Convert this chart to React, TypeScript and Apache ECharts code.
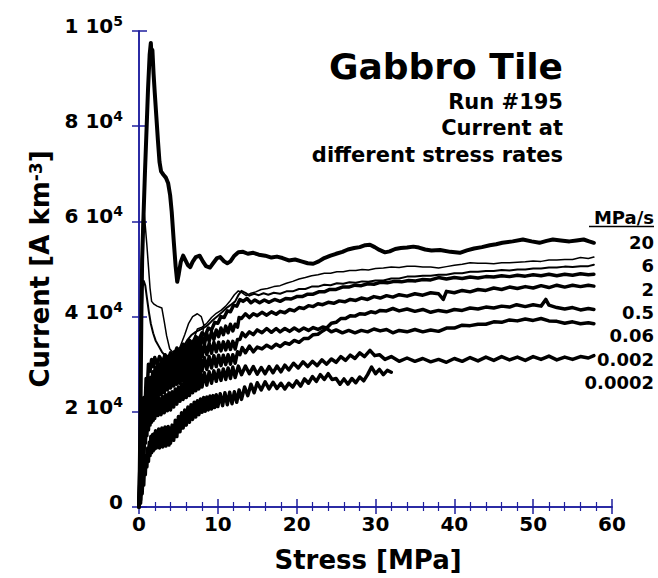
import React, { useEffect, useRef } from "react";
import * as echarts from "echarts";

// ---------- DATA (stress in MPa, current in 10^3 A km^-3) ----------
const xTickValues = [0, 10, 20, 30, 40, 50, 60];
const yTickMantissa = ["0", "2", "4", "6", "8", "1"];
const yTickExponent = ["", "4", "4", "4", "4", "5"];
const legendRates = ["20", "6", "2", "0.5", "0.06", "0.002", "0.0002"];
const titleLines = ["Run #195", "Current at", "different stress rates"];

const rate20 = [[0,0],[0.1,8],[0.2,22],[0.3,40],[0.4,52],[0.55,60],[0.75,70],[0.95,79],[1.15,88],[1.35,95],[1.5,97.5],[1.6,94.5],[1.7,96],[1.85,91],[2.0,87],[2.2,82],[2.4,77],[2.6,72.5],[2.8,70.5],[3.1,69.8],[3.4,69.2],[3.7,68],[3.95,65.5],[4.15,62],[4.4,56],[4.65,50.5],[4.85,47.3],[5.05,49],[5.3,51.5],[5.6,52.8],[5.9,51.8],[6.2,50.8],[6.5,50.4],[6.8,51.5],[7.2,52.5],[7.7,52.8],[8.1,51.6],[8.5,50.6],[9.0,50.3],[9.4,51.2],[9.9,52.3],[10.3,52.5],[10.8,51.6],[11.2,51.2],[11.6,51.6],[12.1,52.8],[12.6,53.5],[13.2,53.6],[13.8,53.2],[14.5,53.4],[15.2,53.0],[16,52.8],[16.8,52.4],[17.5,52.6],[18.2,52.3],[19,51.8],[19.8,52.0],[20.6,51.6],[21.4,51.2],[22.1,51.1],[22.8,51.6],[23.5,52.3],[24.3,52.8],[25,53.2],[25.8,53.6],[26.5,54.1],[27.3,54.4],[28,54.6],[28.7,55.0],[29.3,55.1],[29.9,54.6],[30.5,54.0],[31.2,53.5],[31.8,53.7],[32.5,54.2],[33.2,54.4],[34,54.5],[34.8,54.7],[35.5,54.5],[36.3,54.1],[37.1,53.9],[38.2,54.0],[39.5,53.6],[40.7,53.4],[41.6,53.9],[42.5,54.3],[43.5,54.6],[44.5,55.0],[45.3,55.2],[46.1,55.5],[47.4,55.8],[48.7,56.2],[49.8,55.8],[50.8,55.5],[51.7,55.9],[52.5,56.2],[53.5,56.0],[54.6,55.8],[55.5,56.0],[56.4,56.2],[57.1,55.8],[57.7,55.5]];

const unlabeledUpper = [[0,0],[0.1,14],[0.2,33],[0.3,50],[0.45,60],[0.6,63],[0.8,59],[1.0,55],[1.2,50.5],[1.4,46],[1.6,43.2],[1.9,42.6],[2.3,42.2],[2.9,41.8],[3.2,39],[3.5,36],[3.9,33.2],[4.3,32.5],[4.7,32.6],[5.2,33.6],[5.8,36.2],[6.3,38.6],[6.8,40],[7.4,40.6],[7.9,40],[8.2,38.4],[8.1,36.4],[7.7,35],[7.3,34.9],[7.1,36],[7.4,37.4],[8.0,37.8],[8.6,38.6],[9.2,39.8],[9.8,40.7],[10.4,41.3],[11.0,42.2],[11.6,43.4],[12.1,44.6],[12.6,45.4],[13.1,45],[13.6,44.4],[14.2,44.9],[14.8,45.2],[15.5,45.7],[16.3,45.9],[17.1,46.3],[17.9,46.5],[18.7,47],[19.5,47.4],[20.3,47.9],[21.1,48.2],[21.9,48.6],[22.7,48.8],[23.5,49.1],[24.3,49.1],[25.1,49.4],[25.9,49.4],[26.7,49.7],[27.5,49.7],[28.3,49.9],[29.1,49.8],[30,50.1],[31,50.2],[32,50.4],[33,50.3],[34,50.6],[35,50.6],[36,50.4],[37,50.4],[38,50.2],[39,50.5],[40,50.8],[41,51],[42,51.3],[43,51.2],[44,51.2],[45,51.1],[46,51.3],[47,51.3],[48,51.4],[49,51.5],[50,51.7],[51,51.6],[52,51.9],[53,51.9],[54,52],[55,52],[56,52.4],[57,52.2],[57.7,52.5]];

const rate6 = [[0,0],[0.15,20],[0.3,38],[0.45,46],[0.6,47.5],[0.8,46.5],[1.0,44],[1.25,41],[1.5,38.5],[1.8,36.5],[2.1,35],[2.5,33.8],[2.9,32.6],[3.3,31.8],[3.7,31.2],[4.2,31],[4.6,31.3],[5.1,32.2],[5.6,33.6],[6.1,35],[6.7,36.2],[7.2,36.8],[7.7,37.2],[8.2,37.6],[8.7,38.2],[9.2,39],[9.6,39.6],[10.1,40.3],[10.6,41],[11.1,41.8],[11.6,42.4],[12.2,43.2],[12.6,44.5],[13,45.4],[13.5,45],[14,44.4],[14.6,44.8],[15.2,44.5],[15.8,44.9],[16.4,44.6],[17.1,45],[17.9,44.8],[18.7,45.3],[19.5,45.3],[20.3,45.8],[21.1,45.8],[21.9,46.3],[22.7,46.3],[23.5,46.7],[24.3,46.6],[25.1,47],[25.9,46.9],[26.7,47.2],[27.5,47.1],[28.3,47.4],[29.1,47.3],[30,47.6],[31,47.6],[32,48],[33,48],[34,48.4],[35,48.4],[36,48.6],[37,48.6],[38,48.8],[39,48.8],[40,49.1],[41,49.1],[42,49.4],[43,49.4],[44,49.6],[45,49.6],[46,49.8],[47,49.7],[48,49.9],[49,49.9],[50,50.1],[51,50.1],[52,50.3],[53,50.3],[54,50.5],[55,50.4],[56,50.6],[57,50.6],[57.7,50.9]];

const unlabeledLower = [[0,0],[0.1,8],[0.2,5],[0.3,16],[0.45,13],[0.6,23],[0.75,20],[0.9,27],[1.05,25],[1.2,30],[1.4,28.5],[1.6,31],[1.8,29.5],[2.0,31.4],[2.3,30],[2.6,31.6],[3.0,30.4],[3.3,32],[3.7,31],[4.0,32.4],[4.4,31.6],[4.8,33.4],[5.2,32.6],[5.6,34.2],[6.0,33.6],[6.4,35],[6.8,34.4],[7.2,35.8],[7.6,35.2],[8.0,36.6],[8.4,36],[8.8,37.6],[9.2,37.2],[9.6,38.8],[10.0,38.6],[10.4,40],[10.8,39.8],[11.2,41.2],[11.6,41],[12.0,42.4],[12.4,42.2],[12.8,43.6],[13.2,43.2],[13.7,43.8],[14.2,42.9],[14.7,43.5],[15.3,42.9],[15.9,43.5],[16.5,43],[17.2,43.6],[17.9,43.2],[18.6,43.8],[19.3,43.7],[20,44.2],[20.7,44.2],[21.4,44.7],[22.1,44.7],[22.8,45.2],[23.5,45.2],[24.2,45.7],[25,45.7],[25.8,46.2],[26.6,46.2],[27.4,46.6],[28.2,46.5],[29,46.9],[29.8,46.8],[30.6,47.2],[31.5,47.1],[32.4,47.4],[33.3,47.3],[34.2,47.6],[35.1,47.5],[36,47.8],[37,47.7],[38,48.2],[39,47.9],[40,48.2],[41,48],[42,48.3],[43,48.1],[44,48.4],[45,48.3],[46,48.6],[47,48.4],[48,48.7],[49,48.5],[50,48.8],[51,48.6],[52,48.9],[53,48.6],[54,48.9],[55,48.7],[56,49],[57,48.8],[57.7,48.9]];

const rate2 = [[0,0],[0.1,5],[0.2,3.5],[0.3,10.5],[0.4,9],[0.5,15.5],[0.6,14],[0.7,19.5],[0.8,18],[0.9,22.5],[1.0,21.5],[1.15,25],[1.3,23.8],[1.45,27.2],[1.6,25.6],[1.75,28.4],[1.9,26.8],[2.05,29.4],[2.2,27.6],[2.4,30],[2.6,28.2],[2.8,30.6],[3.0,28.8],[3.2,31.1],[3.4,29.3],[3.6,31.6],[3.8,29.8],[4.0,32],[4.25,30.2],[4.5,32.6],[4.75,30.8],[5.0,33],[5.25,31.2],[5.5,33.6],[5.75,31.8],[6.0,34],[6.25,32.4],[6.5,34.6],[6.75,32.8],[7.0,35],[7.25,33.2],[7.5,35.4],[7.75,33.8],[8.0,35.8],[8.3,34.2],[8.6,36.4],[8.9,34.8],[9.2,36.8],[9.5,35.2],[9.8,37.2],[10.1,35.8],[10.4,37.6],[10.7,36.2],[11.0,38],[11.3,36.6],[11.6,38.4],[11.9,37],[12.2,38.4],[12.5,37.8],[12.7,39.8],[13.0,39.6],[13.5,40.6],[14.0,39.8],[14.5,40.6],[15.0,40.2],[15.6,40.9],[16.2,40.3],[16.8,41],[17.4,40.5],[17.9,41.1],[18.5,40.8],[19.1,41.5],[19.7,41.2],[20.3,41.9],[20.9,41.7],[21.5,42.3],[22.1,42.1],[22.7,42.7],[23.3,42.5],[24,43],[24.7,42.8],[25.4,43.3],[26.1,43.1],[26.8,43.6],[27.5,43.4],[28.2,43.9],[29,43.6],[29.8,44.2],[30.6,43.9],[31.4,44.4],[32.2,44.1],[33,44.6],[34,44.3],[35,44.8],[36,44.5],[37,45],[38,44.8],[38.6,43.6],[39,45.3],[40,45],[41,45.5],[42,45.2],[43,45.7],[44,45.5],[45,46],[46,45.7],[47,46.2],[48,45.9],[49,46.3],[50,46],[51,46.5],[52,46.1],[53,46.6],[54,46.2],[55,46.6],[56,46.3],[57,46.6],[57.7,46.4]];

const rate05 = [[0,0],[0.1,3.5],[0.2,2.5],[0.3,8.5],[0.4,7],[0.5,14],[0.6,12.5],[0.7,18],[0.8,16.8],[0.9,21],[1.0,19.5],[1.1,23.2],[1.2,21.4],[1.3,24.6],[1.4,22.8],[1.5,25.8],[1.6,23.8],[1.7,26.8],[1.8,24.6],[1.9,27.6],[2.0,25.2],[2.2,28.2],[2.4,26],[2.6,29],[2.8,26.8],[3.0,29.6],[3.2,27.2],[3.4,30.2],[3.6,27.6],[3.8,30.5],[4.0,28],[4.2,30.8],[4.4,28.4],[4.6,31.2],[4.8,28.8],[5.0,31.5],[5.2,29.2],[5.4,31.9],[5.6,29.6],[5.8,32.2],[6.0,30],[6.2,32.6],[6.4,30.4],[6.6,33],[6.8,30.8],[7.0,33.2],[7.2,31],[7.4,33.6],[7.6,31.4],[7.8,33.9],[8.0,31.6],[8.3,34.2],[8.6,32],[8.9,34.4],[9.2,32.3],[9.5,34.6],[9.8,32.6],[10.1,34.6],[10.4,32.8],[10.7,34.7],[11.0,33],[11.3,34.8],[11.6,33.1],[11.9,34.8],[12.2,33.2],[12.5,35.2],[12.8,35.2],[13.1,36.6],[13.5,35.8],[14.0,36.8],[14.5,36.2],[15.0,37.2],[15.6,36.6],[16.2,37.5],[16.8,36.7],[17.4,37.5],[17.9,36.8],[18.5,37.5],[19.1,36.9],[19.7,37.6],[20.3,37],[20.9,37.6],[21.5,37.1],[22.1,37.7],[22.7,37.3],[23.3,37.8],[23.8,37.6],[24.4,38.6],[25.0,38.8],[25.6,39.6],[26.2,39.6],[26.8,40.2],[27.4,40.1],[28.0,40.6],[28.7,40.5],[29.4,41],[30.0,40.8],[30.6,41.3],[31.4,41.2],[32.2,41.7],[33,41.2],[34,41.6],[35,41.1],[36,41.5],[37,40.9],[38,41.3],[39,41],[40,41.5],[41,41.3],[42,41.8],[43,41.6],[44,42],[45,41.8],[46,42.2],[47,42],[47.9,42.5],[49,42.1],[50,42.5],[51,42.2],[51.6,43.6],[52.0,42.4],[53,41.9],[54,41.6],[55,41.9],[56,41.4],[57,41.7],[57.7,41.5]];

const rate006 = [[0,0],[0.1,2.5],[0.2,1.5],[0.3,6.5],[0.4,5],[0.5,11],[0.6,9.5],[0.7,15],[0.8,13.5],[0.9,18.2],[1.0,16.5],[1.1,20.2],[1.2,18],[1.3,21.8],[1.4,19.6],[1.5,23],[1.6,20.6],[1.7,24],[1.8,21.4],[1.9,24.8],[2.0,22],[2.2,25.4],[2.4,22.8],[2.6,26.2],[2.8,23.6],[3.0,27],[3.2,24],[3.4,27.6],[3.6,24.6],[3.8,28],[4.0,25],[4.2,28.2],[4.4,25.4],[4.6,28.6],[4.8,25.8],[5.0,29],[5.2,26],[5.4,29.4],[5.6,26.4],[5.8,29.6],[6.0,26.8],[6.2,30],[6.4,27.2],[6.6,30.3],[6.8,27.6],[7.0,30.6],[7.2,27.8],[7.4,30.9],[7.6,28.2],[7.8,31.2],[8.0,28.6],[8.3,31.4],[8.6,28.9],[8.9,31.6],[9.2,29.2],[9.5,31.8],[9.8,29.5],[10.1,31.9],[10.4,29.7],[10.7,31.9],[11.0,29.9],[11.3,32],[11.6,30],[11.9,32],[12.2,30.2],[12.5,32.6],[12.8,32],[13.1,33.5],[13.5,32.4],[14.0,33.8],[14.5,32.6],[15.0,33.6],[15.6,33.2],[16.2,34],[16.8,33.4],[17.4,34.2],[17.9,33.7],[18.5,34.5],[19.1,34.2],[19.7,35],[20.3,34.6],[20.9,35.4],[21.5,35.4],[22.1,36.2],[22.7,36.3],[23.3,37],[23.8,37.5],[24.4,36.8],[25.0,37.2],[25.8,36.6],[26.6,37.1],[27.4,36.6],[28.2,37.1],[29.0,36.8],[29.8,37.4],[30.6,37],[31.4,37.3],[32.2,36.6],[33,37.1],[34,36.8],[35,37.3],[36,36.8],[37,37.2],[38,36.9],[39,37.6],[40,37.6],[41,38.2],[42,38.1],[43,38.4],[44,38.4],[45,38.9],[46,38.8],[47,39.3],[48,39.1],[49,39.5],[50,39.2],[51,39.6],[52,39.1],[53,39.0],[54,38.6],[55,38.9],[56,38.5],[57,38.7],[57.7,38.5]];

const rate0002 = [[0,0],[0.1,5],[0.2,2.5],[0.3,8.5],[0.4,6.5],[0.5,12.5],[0.6,10.8],[0.7,15.4],[0.8,13.4],[0.9,17.6],[1.0,15],[1.1,19],[1.2,16.2],[1.3,20],[1.4,17.2],[1.5,21],[1.6,17.8],[1.7,21.6],[1.8,18.2],[1.9,22],[2.0,18.6],[2.2,22.4],[2.4,19.2],[2.6,22.8],[2.8,19.4],[3.0,23.2],[3.2,19.8],[3.4,23.6],[3.6,20.2],[3.8,24],[4.0,20.4],[4.2,24.2],[4.4,21],[4.6,24.8],[4.8,21.6],[5.0,25.2],[5.2,22.2],[5.4,25.8],[5.6,22.6],[5.8,26.4],[6.0,23],[6.2,26.8],[6.4,23.4],[6.6,27.2],[6.8,24],[7.0,27.5],[7.2,24.4],[7.4,27.8],[7.6,24.8],[7.8,28.2],[8.0,25.2],[8.3,28.2],[8.6,25.6],[8.9,28.4],[9.2,26],[9.5,28.6],[9.8,26.4],[10.1,28.8],[10.4,26.6],[10.7,29],[11.0,26.8],[11.3,29.2],[11.6,27],[11.9,29.4],[12.2,27.2],[12.6,29.6],[13.0,27.8],[13.5,29.6],[14.0,28],[14.5,29.5],[15.0,27.9],[15.5,29.3],[16.0,28.0],[16.5,29.5],[17.0,28.2],[17.5,29.6],[18.0,28.4],[18.5,29.8],[19.0,28.8],[19.6,30.2],[20.2,29.2],[20.8,30.5],[21.4,29.5],[22.0,30.6],[22.6,29.7],[23.2,30.9],[23.8,30.0],[24.4,31.1],[25.0,30.4],[25.6,31.6],[26.2,30.8],[26.8,31.9],[27.4,31.2],[28.0,32.4],[28.6,31.6],[29.3,32.9],[29.9,31.8],[30.5,32.0],[31.2,31.0],[32.0,31.6],[33,30.6],[34,31.3],[35,30.6],[36,31.2],[37,30.5],[38,31.0],[39,30.4],[40,31.2],[41,30.6],[42,31.4],[43,30.7],[44,31.5],[45,30.8],[46,31.6],[47,30.9],[48,31.5],[49,30.8],[50,31.6],[51,31.0],[52,31.7],[53,30.9],[54,31.5],[55,31.0],[56,31.6],[57,31.3],[57.7,31.8]];

const rate00002 = [[0,0],[0.1,2.5],[0.2,0.8],[0.3,4.5],[0.4,2.8],[0.5,6.8],[0.6,4.6],[0.7,9],[0.8,6.8],[0.9,10.8],[1.0,8.4],[1.1,12.4],[1.2,9.6],[1.3,13.6],[1.4,10.8],[1.5,14.8],[1.6,11.4],[1.7,15.2],[1.8,11.8],[1.9,15.4],[2.0,12.2],[2.1,16],[2.2,12.4],[2.3,15.8],[2.4,12.6],[2.5,16.4],[2.6,12.4],[2.7,16],[2.8,12.8],[2.9,16.6],[3.0,12.6],[3.1,16.2],[3.2,13],[3.3,16.8],[3.4,12.8],[3.5,16.4],[3.6,13.2],[3.7,16.9],[3.8,13],[3.9,16.6],[4.0,13.4],[4.2,17.2],[4.4,14],[4.6,18.2],[4.8,14.8],[5.0,19],[5.2,15.8],[5.4,19.8],[5.6,16.6],[5.8,20.4],[6.0,17.2],[6.2,21],[6.4,17.8],[6.6,21.5],[6.8,18.4],[7.0,22],[7.2,18.9],[7.4,22.3],[7.6,19.4],[7.8,22.7],[8.0,19.9],[8.2,23],[8.4,20.1],[8.6,23.1],[8.8,20.4],[9.0,23.3],[9.2,20.6],[9.4,23.4],[9.6,20.9],[9.8,23.6],[10.0,21.1],[10.3,23.8],[10.6,21.3],[10.9,24],[11.2,21.5],[11.5,24.1],[11.8,21.7],[12.1,24.2],[12.4,22],[12.7,24.6],[13.0,22.6],[13.4,25.2],[13.8,23.4],[14.2,25.8],[14.6,24],[15.0,26.1],[15.5,24.6],[16.0,26.3],[16.5,24.8],[17.0,26.2],[17.5,24.9],[18.0,26.0],[18.5,24.8],[19.0,26.0],[19.5,25.2],[20.0,26.5],[20.5,25.4],[21.0,26.9],[21.5,26.0],[22.0,27.4],[22.5,26.4],[23.0,27.8],[23.5,26.8],[24.0,28.0],[24.5,26.8],[25.0,27.0],[25.5,25.8],[26.0,26.9],[26.5,25.8],[27.0,27.0],[27.5,26.1],[28.0,27.3],[28.5,26.5],[29.0,27.8],[29.5,29.4],[30.0,28.0],[30.5,28.9],[31.0,27.8],[31.5,28.7],[32.0,28.3]];

const seriesList = [
  { name: "20 MPa/s", data: rate20 },
  { name: "unlabeled run (upper)", data: unlabeledUpper },
  { name: "6 MPa/s", data: rate6 },
  { name: "unlabeled run (lower)", data: unlabeledLower },
  { name: "2 MPa/s", data: rate2 },
  { name: "0.5 MPa/s", data: rate05 },
  { name: "0.06 MPa/s", data: rate006 },
  { name: "0.002 MPa/s", data: rate0002 },
  { name: "0.0002 MPa/s", data: rate00002 },
];
const seriesWidths = [4, 1.5, 2, 3.5, 3.5, 3.5, 3.5, 3.5, 3.5];

// ---------- STYLE ----------
const FONT = '"DejaVu Sans", "Liberation Sans", Arial, sans-serif';
const AXIS = "#1e1e9e";
const INK = "#000000";

export default function App() {
  const ref = useRef<HTMLDivElement>(null);

  useEffect(() => {
    if (!ref.current) return;
    const chart = echarts.init(ref.current, undefined, { renderer: "svg" });

    const axisCommon = {
      type: "value" as const,
      axisLine: { show: true, lineStyle: { color: AXIS, width: 1.5 } },
      splitLine: { show: false },
    };

    const yFormatter = (v: number) => {
      const i = Math.round(v / 20);
      if (!yTickExponent[i]) return `{m|${yTickMantissa[i]}}`;
      return `{m|${yTickMantissa[i]} 10}{s|${yTickExponent[i]}}`;
    };

    const gridLeft = 139, gridTop = 31, gridW = 473, gridH = 477;
    const titleRight = 563;
    const legendRight = 654;

    const textStyle = (text: string, x: number, y: number, size: number) => ({
      text, x, y, align: "right", verticalAlign: "middle",
      textAlign: "right", textVerticalAlign: "middle",
      fontSize: size, fontWeight: "bold", fontFamily: FONT, fill: INK,
    });

    const graphic: any[] = [
      { type: "rect", z: 100, silent: true, shape: { x: 604, y: 189, width: 54, height: 207 }, style: { fill: "#ffffff" } },
      { type: "text", z: 101, style: textStyle("Gabbro Tile", titleRight, 66, 36) },
      ...titleLines.map((t, i) => ({ type: "text", z: 101, style: textStyle(t, titleRight, [101.5, 127.5, 155][i], 21) })),
      { type: "text", z: 101, style: textStyle("MPa/s", legendRight, 217.5, 18) },
      { type: "line", z: 101, shape: { x1: 589, y1: 226.5, x2: legendRight, y2: 226.5 }, style: { stroke: INK, lineWidth: 1.5 } },
      ...legendRates.map((r, i) => ({ type: "text", z: 101, style: textStyle(r, legendRight, 242.5 + i * 23.3, 18) })),
    ];

    const option: any = {
      animation: false,
      backgroundColor: "#ffffff",
      grid: { left: gridLeft, top: gridTop, width: gridW, height: gridH, containLabel: false },
      xAxis: [
        {
          ...axisCommon,
          position: "bottom",
          min: xTickValues[0], max: xTickValues[xTickValues.length - 1], interval: 10,
          axisTick: { show: true, inside: true, length: 8, lineStyle: { color: AXIS, width: 1.5 } },
          minorTick: { show: true, splitNumber: 5, length: 5, lineStyle: { color: AXIS, width: 1.2 } },
          axisLabel: { color: INK, fontFamily: FONT, fontWeight: "bold", fontSize: 20, margin: 7 },
          name: "Stress [MPa]",
          nameLocation: "middle",
          nameGap: 40,
          nameTextStyle: { color: INK, fontFamily: FONT, fontWeight: "bold", fontSize: 26, padding: [0, 15, 0, 0] },
        },
        {
          ...axisCommon,
          position: "top",
          min: 0, max: 60, interval: 10,
          axisTick: { show: true, inside: true, length: 7, lineStyle: { color: AXIS, width: 1.5 } },
          minorTick: { show: true, splitNumber: 5, length: 4, lineStyle: { color: AXIS, width: 1.2 } },
          axisLabel: { show: false },
        },
      ],
      yAxis: [
        {
          ...axisCommon,
          position: "left",
          min: 0, max: 100, interval: 20,
          axisTick: { show: true, inside: true, length: 8, lineStyle: { color: AXIS, width: 1.5 } },
          axisLabel: {
            formatter: yFormatter,
            margin: 16,
            padding: [0, 0, 12, 0],
            rich: {
              m: { fontFamily: FONT, fontWeight: "bold", fontSize: 20, color: INK, lineHeight: 22, padding: [8, 0, 0, 0], verticalAlign: "bottom" },
              s: { fontFamily: FONT, fontWeight: "bold", fontSize: 14, color: INK, lineHeight: 16, verticalAlign: "top" },
            },
          },
          name: "Current [A km{s|-3}]",
          nameLocation: "middle",
          nameGap: 86,
          nameTextStyle: {
            color: INK, fontFamily: FONT, fontWeight: "bold", fontSize: 26,
            rich: {
              s: { fontFamily: FONT, fontWeight: "bold", fontSize: 17, color: INK, verticalAlign: "top", lineHeight: 14 },
            },
          },
        },
        {
          ...axisCommon,
          position: "right",
          min: 0, max: 100, interval: 20,
          axisTick: { show: true, inside: true, length: 7, lineStyle: { color: AXIS, width: 1.5 } },
          axisLabel: { show: false },
        },
      ],
      series: seriesList.map((s, i) => ({
        name: s.name,
        type: "line",
        xAxisIndex: 0,
        yAxisIndex: 0,
        data: s.data,
        showSymbol: false,
        symbol: "none",
        smooth: false,
        lineStyle: { color: INK, width: seriesWidths[i], join: "round", cap: "round" },
        emphasis: { disabled: true },
        z: 3,
      })),
      graphic,
    };

    chart.setOption(option);
    return () => chart.dispose();
  }, []);

  return (
    <div
      ref={ref}
      style={{ position: "fixed", left: 0, top: 0, width: 658, height: 578, background: "#fff" }}
    />
  );
}
